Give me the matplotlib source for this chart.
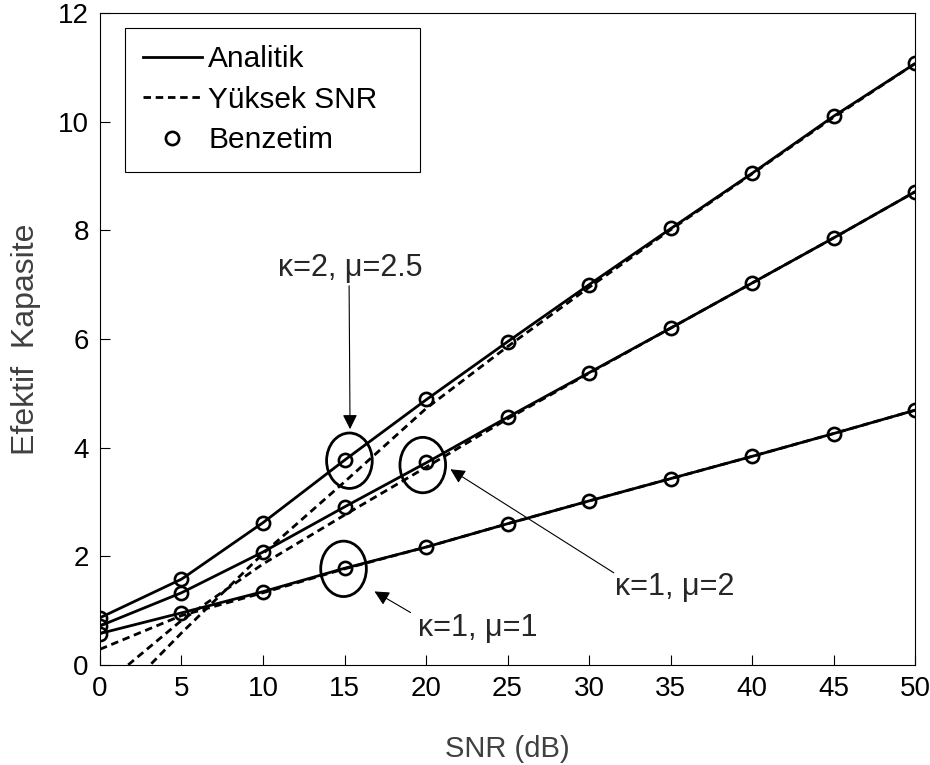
import matplotlib
matplotlib.use("Agg")
import matplotlib.pyplot as plt
from matplotlib.patches import Ellipse
from matplotlib import rcParams

# SNR grid (dB)
snr_db = [0, 5, 10, 15, 20, 25, 30, 35, 40, 45, 50]

# Analytic effective capacity
ana_k2_m25 = [0.87, 1.58, 2.62, 3.77, 4.88, 5.95, 7.00, 8.03, 9.05, 10.10, 11.07]
ana_k1_m2 = [0.72, 1.33, 2.08, 2.91, 3.72, 4.56, 5.38, 6.20, 7.03, 7.86, 8.71]
ana_k1_m1 = [0.58, 0.96, 1.35, 1.78, 2.17, 2.60, 3.02, 3.43, 3.84, 4.26, 4.69]

# High SNR approximation
hs_k2_m25 = [-0.94, 0.59, 2.05, 3.37, 4.72, 5.86, 6.95, 8.01, 9.04, 10.08, 11.07]
hs_k1_m2 = [-0.43, 0.82, 1.86, 2.76, 3.64, 4.53, 5.37, 6.20, 7.03, 7.86, 8.71]
hs_k1_m1 = [0.29, 0.91, 1.33, 1.77, 2.17, 2.60, 3.02, 3.43, 3.84, 4.26, 4.69]

# Simulation
sim_k2_m25 = [0.87, 1.58, 2.62, 3.77, 4.90, 5.95, 7.00, 8.04, 9.06, 10.10, 11.08]
sim_k1_m2 = [0.72, 1.33, 2.08, 2.91, 3.73, 4.56, 5.38, 6.20, 7.03, 7.86, 8.71]
sim_k1_m1 = [0.58, 0.96, 1.35, 1.79, 2.17, 2.60, 3.02, 3.43, 3.85, 4.26, 4.69]

rcParams.update({
    "font.family": ["Liberation Sans", "DejaVu Sans"],
    "font.size": 20,
    "axes.linewidth": 0.8,
})

fig = plt.figure(figsize=(9.3, 7.65), dpi=100)
ax = fig.add_axes([0.1075, 0.1307, 0.8765, 0.8523])

lw = 2.0
dash = (0, (2.7, 1.7))
mk = dict(linestyle="none", marker="o", markersize=9.5, markerfacecolor="none",
          markeredgecolor="black", markeredgewidth=1.9)
for y in (ana_k2_m25, ana_k1_m2, ana_k1_m1):
    ax.plot(snr_db, y, color="black", linewidth=lw)
for y in (hs_k2_m25, hs_k1_m2, hs_k1_m1):
    ax.plot(snr_db, y, color="black", linewidth=lw, linestyle=dash)
for y in (sim_k2_m25, sim_k1_m2, sim_k1_m1):
    ax.plot(snr_db, y, **mk)

# legend proxies
h1, = ax.plot([], [], color="black", linewidth=lw, label="Analitik")
h2, = ax.plot([], [], color="black", linewidth=lw, linestyle=dash, label="Yüksek SNR   ")
h3, = ax.plot([], [], label="Benzetim", **mk)
leg = ax.legend(handles=[h1, h2, h3], loc="upper left", bbox_to_anchor=(0.031, 0.977),
                fancybox=False, framealpha=1, edgecolor="black", fontsize=21.5,
                handlelength=2.0, handletextpad=0.2, labelspacing=0.42,
                borderpad=0.58, borderaxespad=0)
leg.get_frame().set_linewidth(0.8)

# ellipses marking the annotated points
for cx, cy in [(15.3, 3.76), (19.8, 3.68), (14.94, 1.77)]:
    ax.add_patch(Ellipse((cx, cy), 2.8, 1.02, fill=False, edgecolor="black", linewidth=2.0))

arrow = dict(arrowstyle="-|>", color="black", lw=0.8, mutation_scale=22)
ax.annotate("", xy=(15.34, 4.29), xytext=(15.28, 7.03), arrowprops=arrow)
ax.annotate("", xy=(21.35, 3.63), xytext=(31.66, 1.67), arrowprops=arrow)
ax.annotate("", xy=(16.69, 1.38), xytext=(19.2, 0.94), arrowprops=arrow)

txt_color = "#262626"
ax.text(15.34, 7.31, "κ=2, μ=2.5", ha="center", va="center", color=txt_color, fontsize=22)
ax.text(31.6, 1.44, "κ=1, μ=2", ha="left", va="center", color=txt_color, fontsize=22)
ax.text(19.5, 0.68, "κ=1, μ=1", ha="left", va="center", color=txt_color, fontsize=22)

ax.set_xlim(0, 50)
ax.set_ylim(0, 12)
ax.set_xticks(range(0, 51, 5))
ax.set_yticks(range(0, 13, 2))
ax.tick_params(direction="in", length=7, width=0.8, top=False, right=False,
               labelsize=20, colors="black", pad=8)
ax.set_xlabel("SNR (dB)", color="#404040", fontsize=21, labelpad=24)
ax.set_ylabel("Efektif  Kapasite", color="#404040", fontsize=23, labelpad=12)

fig.savefig("out.png", dpi=100)
